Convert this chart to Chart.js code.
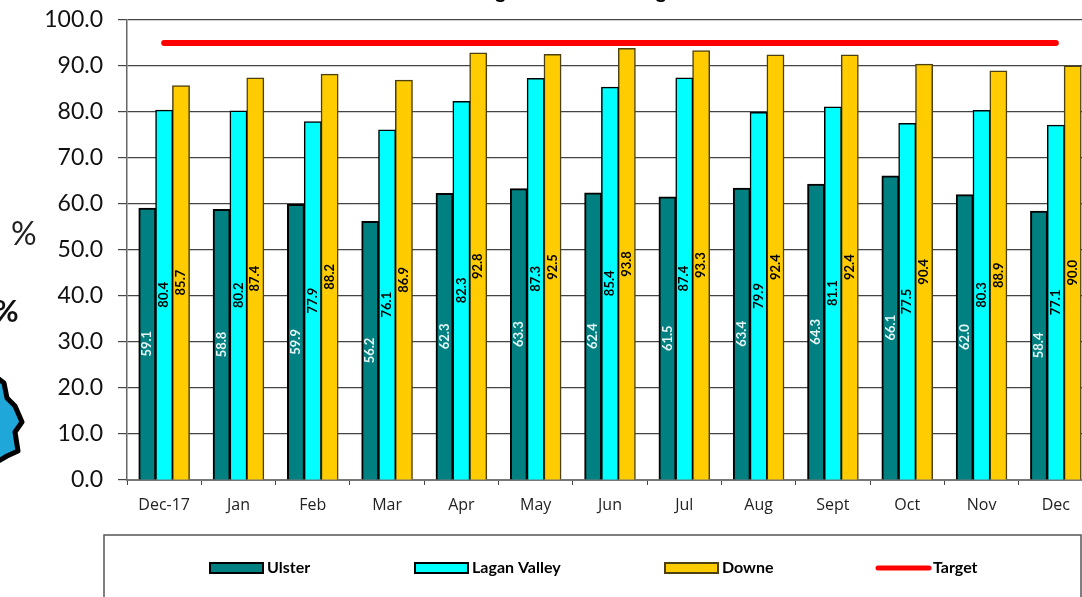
<!DOCTYPE html>
<html>
<head>
<meta charset="utf-8">
<style>
  html, body { margin: 0; background: #fff; overflow: hidden; }
  canvas { display: block; }
</style>
<script src="https://cdn.jsdelivr.net/npm/chart.js@4"></script>
</head>
<body>
<canvas id="chart" width="1100" height="597"></canvas>
<script>
const months = ['Dec-17', 'Jan', 'Feb', 'Mar', 'Apr', 'May', 'Jun', 'Jul', 'Aug', 'Sept', 'Oct', 'Nov', 'Dec'];
const ulster = [59.1, 58.8, 59.9, 56.2, 62.3, 63.3, 62.4, 61.5, 63.4, 64.3, 66.1, 62.0, 58.4];
const laganValley = [80.4, 80.2, 77.9, 76.1, 82.3, 87.3, 85.4, 87.4, 79.9, 81.1, 77.5, 80.3, 77.1];
const downe = [85.7, 87.4, 88.2, 86.9, 92.8, 92.5, 93.8, 93.3, 92.4, 92.4, 90.4, 88.9, 90.0];
const target = [95, 95, 95, 95, 95, 95, 95, 95, 95, 95, 95, 95, 95];

// Value written up the middle of each bar
const barLabels = {
  id: 'barLabels',
  afterDatasetsDraw(chart) {
    const ctx = chart.ctx;
    chart.data.datasets.forEach((ds, i) => {
      if (ds.type === 'line') return;
      chart.getDatasetMeta(i).data.forEach((bar, j) => {
        ctx.save();
        ctx.translate(bar.x, (bar.y + bar.base) / 2);
        ctx.rotate(-Math.PI / 2);
        ctx.font = 'bold 13px Lato';
        ctx.fillStyle = ds.labelColor;
        ctx.textAlign = 'center';
        ctx.textBaseline = 'middle';
        ctx.fillText(ds.data[j].toFixed(1), 0, 0);
        ctx.restore();
      });
    });
  }
};

// Boxed legend under the plot
const legendBox = {
  id: 'legendBox',
  afterDraw(chart) {
    const ctx = chart.ctx;
    const starts = [210, 415, 665, 876];
    ctx.save();
    ctx.strokeStyle = '#555';
    ctx.lineWidth = 1.5;
    ctx.strokeRect(104, 535, 977, 70);
    ctx.font = 'bold 16px Lato';
    ctx.textBaseline = 'middle';
    chart.data.datasets.forEach((ds, i) => {
      const x = starts[i];
      if (ds.type === 'line') {
        ctx.strokeStyle = ds.borderColor;
        ctx.lineWidth = 5;
        ctx.lineCap = 'round';
        ctx.beginPath();
        ctx.moveTo(x + 2, 568);
        ctx.lineTo(x + 53, 568);
        ctx.stroke();
      } else {
        ctx.fillStyle = ds.backgroundColor;
        ctx.strokeStyle = ds.borderColor;
        ctx.lineWidth = 2;
        ctx.fillRect(x, 563, 53, 10);
        ctx.strokeRect(x, 563, 53, 10);
      }
      ctx.fillStyle = '#000';
      ctx.fillText(ds.label, x + 57, 568);
    });
    ctx.restore();
  }
};

// Things from the slide behind the chart: cut off title, % signs and the map edge
const slideBits = {
  id: 'slideBits',
  afterDraw(chart) {
    const ctx = chart.ctx;
    ctx.save();
    ctx.fillStyle = '#000';
    ctx.font = 'bold 20px Lato';
    ctx.textAlign = 'center';
    ctx.textBaseline = 'alphabetic';
    ctx.fillText('g', 500.5, -2);
    ctx.fillText('g', 661, -2);
    ctx.textAlign = 'left';
    ctx.fillStyle = '#222';
    ctx.font = '32px Lato';
    ctx.fillText('%', 11, 245);
    ctx.fillStyle = '#111';
    ctx.font = 'bold 30px Lato';
    ctx.fillText('%', -6, 322);
    ctx.fillStyle = '#1fa7d9';
    ctx.strokeStyle = '#000';
    ctx.lineWidth = 5;
    ctx.lineJoin = 'round';
    ctx.beginPath();
    ctx.moveTo(-5, 376);
    ctx.lineTo(4, 383);
    ctx.lineTo(7, 398);
    ctx.lineTo(15, 406);
    ctx.lineTo(22, 422);
    ctx.lineTo(15, 432);
    ctx.lineTo(18, 451);
    ctx.lineTo(7, 456);
    ctx.lineTo(-5, 463);
    ctx.closePath();
    ctx.fill();
    ctx.stroke();
    ctx.restore();
  }
};

new Chart(document.getElementById('chart'), {
  type: 'bar',
  data: {
    labels: months,
    datasets: [
      { label: 'Ulster', data: ulster, backgroundColor: '#008080', borderColor: '#000',
        borderWidth: 2, labelColor: '#e6f5f5', order: 1, inflateAmount: 0.5 },
      { label: 'Lagan Valley', data: laganValley, backgroundColor: '#00ffff', borderColor: '#000',
        borderWidth: 1.5, labelColor: '#000', order: 1, inflateAmount: 0.5 },
      { label: 'Downe', data: downe, backgroundColor: '#ffcc00', borderColor: '#4d4010',
        borderWidth: 1.5, labelColor: '#000', order: 1, inflateAmount: 0.5 },
      { type: 'line', label: 'Target', data: target, borderColor: '#ff0000', borderWidth: 6,
        borderCapStyle: 'round', pointRadius: 0, order: 0 }
    ]
  },
  options: {
    responsive: false,
    animation: false,
    layout: { padding: { top: 20, right: 7, left: 0, bottom: 0 } },
    categoryPercentage: 0.68,
    barPercentage: 1,
    plugins: { legend: { display: false }, title: { display: false }, tooltip: { enabled: false } },
    scales: {
      x: {
        afterFit(scale) { scale.height = 117; },
        grid: { drawOnChartArea: false, color: '#444', tickLength: 5, offset: true },
        border: { color: '#777', width: 2 },
        ticks: { color: '#222', font: { family: 'Open Sans', size: 16 }, padding: 11, maxRotation: 0, autoSkip: false }
      },
      y: {
        min: 0,
        max: 100,
        // tick padding would otherwise push the plot top down
        afterFit(scale) { scale.width = 127; scale.paddingTop = 0; scale.paddingBottom = 0; },
        grid: { color: '#444', tickLength: 9, lineWidth: 1.2 },
        border: { color: '#666', width: 1.5 },
        ticks: { stepSize: 10, color: '#111', font: { family: 'Lato', size: 23 }, padding: 15,
          callback: v => v.toFixed(1) }
      }
    }
  },
  plugins: [barLabels, legendBox, slideBits]
});
</script>
</body>
</html>
